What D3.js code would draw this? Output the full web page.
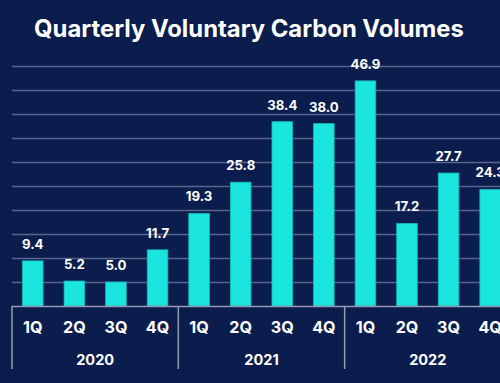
<!DOCTYPE html>
<html><head><meta charset="utf-8">
<script src="https://cdn.jsdelivr.net/npm/d3@7"></script>
<style>html,body{margin:0;padding:0;background:#0b1d4d;}svg{display:block;}</style>
</head><body>
<script>
const title = "Quarterly Voluntary Carbon Volumes";
const quarters = ["1Q","2Q","3Q","4Q","1Q","2Q","3Q","4Q","1Q","2Q","3Q","4Q"];
const years = ["2020","2021","2022"];
const values = [9.4, 5.2, 5.0, 11.7, 19.3, 25.8, 38.4, 38.0, 46.9, 17.2, 27.7, 24.3];
const yTicks = [5,10,15,20,25,30,35,40,45,50];

const W = 500, H = 383;
const svg = d3.select("body").append("svg").attr("width", W).attr("height", H);
svg.append("rect").attr("width", W).attr("height", H).attr("fill", "#0b1d4d");

const left = 12, step = 41.58, base = 306;
const idx = values.map((d,i)=>i);
const x = d3.scaleBand().domain(idx).range([left, left + step*values.length]).paddingInner(0.505).paddingOuter(0.2525);
const y = d3.scaleLinear().domain([0, 50]).range([base, 66]);
const font = "Inter, 'Open Sans', sans-serif";

function fit(sel, target){
  const w = sel.node().getComputedTextLength();
  const fs = parseFloat(sel.attr("font-size"));
  sel.attr("font-size", fs*target/w);
}

const t = svg.append("text").attr("x", 249).attr("y", 37).attr("text-anchor","middle")
  .attr("fill","#fff").attr("font-family",font).attr("font-weight",700).attr("font-size",22)
  .text(title);
fit(t, 430);

// gridlines
svg.append("g").selectAll("line").data(yTicks).join("line")
  .attr("x1", left).attr("x2", W).attr("y1", d=>y(d)+0.5).attr("y2", d=>y(d)+0.5)
  .attr("stroke","#56668f").attr("stroke-width",1.5);

// bars
svg.append("g").selectAll("rect").data(values).join("rect")
  .attr("x",(d,i)=>x(i)).attr("width",x.bandwidth())
  .attr("y",d=>y(d)).attr("height",d=>base-y(d))
  .attr("fill","#1be5df").attr("stroke","#12b9b8").attr("stroke-width",0.8);

// value labels
const vl = svg.append("g").selectAll("text").data(values).join("text")
  .attr("x",(d,i)=>x(i)+x.bandwidth()/2).attr("y",d=>y(d)-12)
  .attr("text-anchor","middle").attr("fill","#fff").attr("font-family",font)
  .attr("font-weight",700).attr("font-size",13).text(d=>d.toFixed(1));
{
  const w = vl.nodes()[8].getComputedTextLength();
  vl.attr("font-size", 13*30/w);
}

// axis
svg.append("line").attr("x1",left).attr("x2",W).attr("y1",base+0.5).attr("y2",base+0.5)
  .attr("stroke","#959cb2").attr("stroke-width",1.5);
const sepIdx = [0,4,8,12];
svg.append("g").selectAll("line").data(sepIdx).join("line")
  .attr("x1",d=>left+step*d).attr("x2",d=>left+step*d).attr("y1",base).attr("y2",369)
  .attr("stroke","#959cb2").attr("stroke-width",1.5);

const ql = svg.append("g").selectAll("text").data(quarters).join("text")
  .attr("x",(d,i)=>x(i)+x.bandwidth()/2).attr("y",332.5)
  .attr("text-anchor","middle").attr("fill","#fff").attr("font-family",font)
  .attr("font-weight",700).attr("font-size",14).text(d=>d);
{
  const w = ql.nodes()[0].getComputedTextLength();
  ql.attr("font-size", 14*19.5/w);
}

const yl = svg.append("g").selectAll("text").data(years).join("text")
  .attr("x",(d,i)=>left+step*(i*4+2)).attr("y",364.5)
  .attr("text-anchor","middle").attr("fill","#fff").attr("font-family",font)
  .attr("font-weight",700).attr("font-size",14).text(d=>d);
{
  const w = yl.nodes()[0].getComputedTextLength();
  yl.attr("font-size", 14*38/w);
}
</script>
</body></html>
